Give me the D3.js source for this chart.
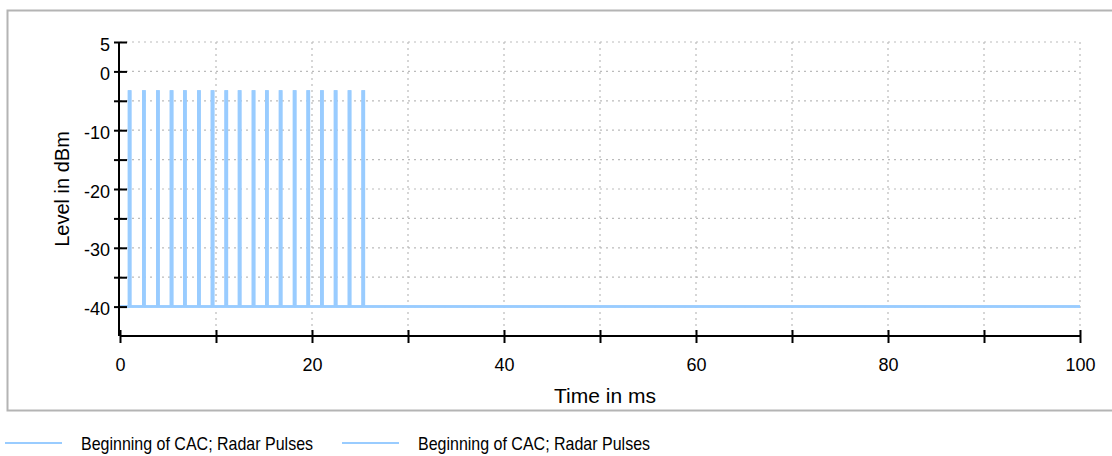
<!DOCTYPE html>
<html>
<head>
<meta charset="utf-8">
<script src="https://cdn.jsdelivr.net/npm/d3@7"></script>
<style>
  body { margin: 0; background: #fff; font-family: "Liberation Sans", Arial, sans-serif; }
</style>
</head>
<body>
<svg id="chart" width="1112" height="456"></svg>
<script>
// pulse start times (ms)
const pulseTimes = [0.94, 2.43, 3.89, 5.31, 6.70, 8.16, 9.58, 11.01, 12.40, 13.85, 15.24, 16.67, 18.13, 19.55, 20.97, 22.40, 23.85, 25.28]
const pulseWidth = 0.12
const pulseLevel = -3.4
const floorLevel = -40
const timeRange = [0, 100]
const seriesNames = ["Beginning of CAC; Radar Pulses", "Beginning of CAC; Radar Pulses"]
const xTickLabels = [0, 20, 40, 60, 80, 100]
const yTickLabels = [5, 0, -10, -20, -30, -40]

const svg = d3.select("#chart")
const color = "#99ccff"
const font = "Liberation Sans, Arial, sans-serif"

// frame
svg.append("rect")
  .attr("x", 7.5).attr("y", 10.5)
  .attr("width", 1120).attr("height", 400)
  .attr("fill", "#fff")
  .attr("stroke", "#b4b4b4")
  .attr("stroke-width", 2)

const x = d3.scaleLinear().domain(timeRange).range([120, 1080])
const y = d3.scaleLinear().domain([-45, 5]).range([336, 42])

// grid
const g = svg.append("g")
g.selectAll(".gx").data(d3.range(10, 101, 10)).enter().append("line")
  .attr("x1", d => x(d)).attr("x2", d => x(d))
  .attr("y1", y(5)).attr("y2", y(-45))
  .attr("stroke", "#bbbbbb").attr("stroke-width", 1.2).attr("stroke-dasharray", "2,4")
g.selectAll(".gy").data(d3.range(-40, 6, 5)).enter().append("line")
  .attr("x1", x(0)).attr("x2", x(100))
  .attr("y1", d => y(d)).attr("y2", d => y(d))
  .attr("stroke", "#bbbbbb").attr("stroke-width", 1.2).attr("stroke-dasharray", "2,4")

// series data: step trace built from the pulse times
const trace = [[timeRange[0], floorLevel]]
pulseTimes.forEach(t => {
  trace.push([t, floorLevel], [t, pulseLevel], [t + pulseWidth, pulseLevel], [t + pulseWidth, floorLevel])
})
trace.push([timeRange[1], floorLevel])

const line = d3.line().x(d => x(d[0])).y(d => y(d[1]))
seriesNames.forEach(() => {
  svg.append("path")
    .attr("d", line(trace))
    .attr("fill", "none")
    .attr("stroke", color)
    .attr("stroke-width", 2.5)
})

// axes
const xAxis = d3.axisBottom(x).tickValues(d3.range(0, 101, 10)).tickSize(6)
  .tickFormat(d => xTickLabels.includes(d) ? d : "")
const ax = svg.append("g").attr("transform", `translate(0,${y(-45)})`).call(xAxis)
ax.selectAll("line").attr("y1", -6).attr("y2", 7)
ax.selectAll("text").attr("y", 22)

const yAxis = d3.axisLeft(y).tickValues(d3.range(-40, 6, 5)).tickSize(6)
  .tickFormat(d => yTickLabels.includes(d) ? d : "")
const ay = svg.append("g").attr("transform", `translate(${x(0) - 1},0)`).call(yAxis)
ay.selectAll("line").attr("x1", -5).attr("x2", 8)
ay.selectAll("text").attr("x", -9).attr("dy", "0.45em")

;[ax, ay].forEach(a => {
  a.select(".domain").attr("stroke", "#000").attr("stroke-width", 2)
  a.selectAll(".tick line").attr("stroke", "#000").attr("stroke-width", 2)
  a.selectAll("text").attr("font-size", 18).attr("fill", "#000").attr("font-family", font)
})
ay.select(".domain").attr("d", `M0,${y(5)}V${y(-45)}`)
ax.select(".domain").attr("d", `M${x(0)},0H${x(100)}`)

// axis titles
svg.append("text")
  .attr("x", 605).attr("y", 403)
  .attr("text-anchor", "middle")
  .attr("font-size", 21)
  .text("Time in ms")
svg.append("text")
  .attr("transform", `translate(69,${y(-20)}) rotate(-90)`)
  .attr("text-anchor", "middle")
  .attr("font-size", 20)
  .text("Level in dBm")

// legend
const legend = svg.append("g").attr("transform", "translate(0,443)")
const items = legend.selectAll(".item").data(seriesNames).enter().append("g")
  .attr("transform", (d, i) => `translate(${5 + i * 337},0)`)
items.append("line")
  .attr("x1", 0).attr("x2", 57)
  .attr("stroke", color).attr("stroke-width", 2)
items.append("text")
  .attr("transform", "translate(76,0) scale(1,1.15)")
  .attr("dy", "0.36em")
  .attr("font-size", 16)
  .text(d => d)
</script>
</body>
</html>
